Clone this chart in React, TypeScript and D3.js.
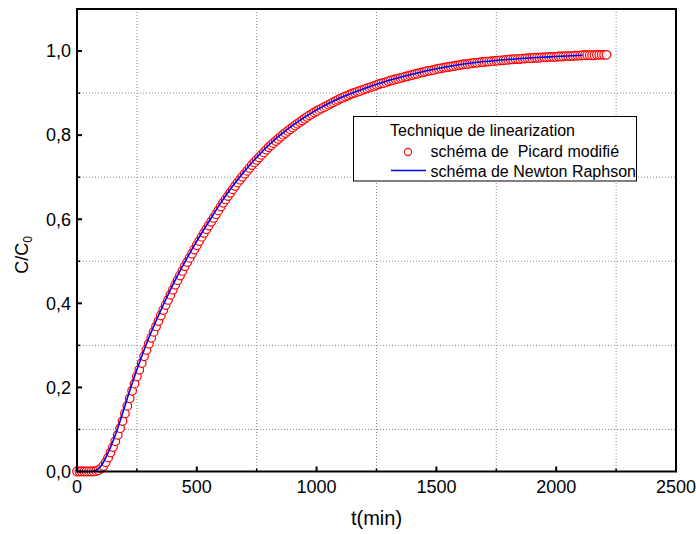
import React from 'react';
import * as d3 from 'd3';

// Picard modifié: one circle every 10 min, t = 0 .. 2210
const picardTime = d3.range(0, 2220, 10);
const picardValues = [
  0, 0, 0, 0, 0, 0, 0, 0, 0.001, 0.003,
  0.007, 0.013, 0.022, 0.033, 0.045, 0.058, 0.072, 0.087, 0.103, 0.120,
  0.138, 0.156, 0.174, 0.192, 0.209, 0.226, 0.242, 0.258, 0.274, 0.289,
  0.304, 0.318, 0.332, 0.345, 0.358, 0.371, 0.384, 0.396, 0.408, 0.420,
  0.432, 0.444, 0.455, 0.466, 0.477, 0.488, 0.498, 0.508, 0.518, 0.528,
  0.538, 0.548, 0.558, 0.567, 0.576, 0.585, 0.594, 0.603, 0.612, 0.621,
  0.630, 0.639, 0.647, 0.655, 0.663, 0.671, 0.679, 0.687, 0.694, 0.701,
  0.708, 0.715, 0.722, 0.729, 0.735, 0.741, 0.747, 0.753, 0.759, 0.765,
  0.771, 0.776, 0.781, 0.786, 0.791, 0.796, 0.801, 0.805, 0.810, 0.814,
  0.818, 0.823, 0.827, 0.831, 0.835, 0.839, 0.843, 0.847, 0.850, 0.854,
  0.857, 0.860, 0.863, 0.866, 0.869, 0.872, 0.875, 0.878, 0.881, 0.884,
  0.887, 0.889, 0.892, 0.894, 0.897, 0.899, 0.901, 0.903, 0.905, 0.907,
  0.909, 0.911, 0.913, 0.915, 0.917, 0.919, 0.921, 0.923, 0.924, 0.926,
  0.928, 0.930, 0.931, 0.933, 0.934, 0.936, 0.937, 0.939, 0.940, 0.942,
  0.943, 0.945, 0.946, 0.948, 0.949, 0.950, 0.952, 0.953, 0.954, 0.955,
  0.957, 0.958, 0.959, 0.960, 0.961, 0.962, 0.963, 0.964, 0.965, 0.966,
  0.967, 0.968, 0.969, 0.969, 0.970, 0.971, 0.972, 0.972, 0.973, 0.974,
  0.974, 0.975, 0.975, 0.976, 0.976, 0.977, 0.977, 0.978, 0.978, 0.979,
  0.979, 0.980, 0.980, 0.981, 0.981, 0.981, 0.982, 0.982, 0.983, 0.983,
  0.983, 0.984, 0.984, 0.984, 0.985, 0.985, 0.985, 0.986, 0.986, 0.986,
  0.986, 0.987, 0.987, 0.987, 0.988, 0.988, 0.988, 0.988, 0.989, 0.989,
  0.989, 0.990, 0.990, 0.990, 0.990, 0.990, 0.990, 0.991, 0.991, 0.991,
  0.991, 0.991,
];

// Newton Raphson (line)
const newtonTime = [
  0, 60, 70, 80, 90, 100, 110, 120, 130, 140,
  150, 160, 170, 180, 190, 200, 220, 240, 260, 280,
  300, 330, 360, 400, 450, 500, 550, 600, 650, 700,
  750, 800, 850, 900, 1000, 1100, 1200, 1300, 1400, 1500,
  1600, 1700, 1800, 1900, 2000, 2110,
];
const newtonValues = [
  0, 0, 0.001, 0.003, 0.007, 0.013, 0.022, 0.033, 0.045, 0.058,
  0.072, 0.087, 0.103, 0.120, 0.138, 0.156, 0.192, 0.226, 0.258, 0.289,
  0.318, 0.358, 0.396, 0.444, 0.498, 0.548, 0.594, 0.639, 0.679, 0.715,
  0.747, 0.776, 0.801, 0.823, 0.860, 0.889, 0.911, 0.930, 0.945, 0.958,
  0.968, 0.975, 0.980, 0.984, 0.987, 0.990,
];

const xTicks = [0, 500, 1000, 1500, 2000, 2500];
const xMinor = [250, 750, 1250, 1750, 2250];
const yTicks = [0, 0.2, 0.4, 0.6, 0.8, 1.0];
const yMinor = [0.1, 0.3, 0.5, 0.7, 0.9];

const legendTitle = 'Technique de linearization';
const picardLabel = 'schéma de  Picard modifié';
const newtonLabel = 'schéma de Newton Raphson';

const font = '"Liberation Sans", Arial, sans-serif';

export default function App() {
  const W = 696, H = 534;
  const left = 77, right = 676, top = 9, bottom = 471.5;

  const x = d3.scaleLinear().domain([0, 2500]).range([left, right]);
  const y = d3.scaleLinear().domain([0, 1.1]).range([bottom, top]);

  const picard = picardTime.map((t, i) => ({ t, v: picardValues[i] }));
  const newton = newtonTime.map((t, i) => ({ t, v: newtonValues[i] }));

  const line = d3.line<{ t: number; v: number }>()
    .x(d => x(d.t))
    .y(d => y(d.v))
    .curve(d3.curveMonotoneX);

  const fmtY = (v: number) => v.toFixed(1).replace('.', ',');

  // legend box
  const lg = { x: 353.5, y: 116.5, w: 283, h: 64.5 };

  return (
    <svg width={W} height={H} style={{ position: 'absolute', left: 0, top: 0, background: '#fff' }}
      fontFamily={font}>
      <rect x={0} y={0} width={W} height={H} fill="#fff" />

      {/* dotted grid at minor positions */}
      {xMinor.map(t => (
        <line key={'gx' + t} x1={x(t)} x2={x(t)} y1={top} y2={bottom}
          stroke="#8c8c8c" strokeWidth={1} strokeDasharray="1,2" />
      ))}
      {yMinor.map(v => (
        <line key={'gy' + v} x1={left} x2={right} y1={y(v)} y2={y(v)}
          stroke="#8c8c8c" strokeWidth={1} strokeDasharray="1,2" />
      ))}

      {/* Picard circles */}
      {picard.map((d, i) => (
        <circle key={i} cx={x(d.t)} cy={y(d.v)} r={4.3}
          fill="#fff" stroke="#ff0000" strokeWidth={1.2} />
      ))}

      {/* Newton line */}
      <path d={line(newton) || ''} fill="none" stroke="#0000ff" strokeWidth={1.6} />

      {/* frame */}
      <rect x={left} y={top} width={right - left} height={bottom - top}
        fill="none" stroke="#000" strokeWidth={2} />

      {/* ticks */}
      {xTicks.map(t => (
        <g key={'xt' + t}>
          <line x1={x(t)} x2={x(t)} y1={bottom} y2={bottom - 5} stroke="#000" strokeWidth={2} />
          <text x={x(t)} y={492.5} textAnchor="middle" fontSize={18}>{t}</text>
        </g>
      ))}
      {xMinor.map(t => (
        <line key={'xm' + t} x1={x(t)} x2={x(t)} y1={bottom} y2={bottom - 3} stroke="#000" strokeWidth={1.5} />
      ))}
      {yTicks.map(v => (
        <g key={'yt' + v}>
          <line x1={left} x2={left + 5} y1={y(v)} y2={y(v)} stroke="#000" strokeWidth={2} />
          <text x={71} y={y(v)} dy="0.35em" textAnchor="end" fontSize={18}>{fmtY(v)}</text>
        </g>
      ))}
      {yMinor.map(v => (
        <line key={'ym' + v} x1={left} x2={left + 3} y1={y(v)} y2={y(v)} stroke="#000" strokeWidth={1.5} />
      ))}

      {/* axis titles */}
      <text x={(left + right) / 2} y={525} textAnchor="middle" fontSize={20}>t(min)</text>
      <text transform="translate(27.5,255) rotate(-90)" textAnchor="middle" fontSize={18}>
        C/C<tspan fontSize={12} dy={4}>0</tspan>
      </text>

      {/* legend */}
      <rect x={lg.x} y={lg.y} width={lg.w} height={lg.h} fill="#fff" stroke="#000" strokeWidth={1} />
      <text x={390} y={136} fontSize={16}>{legendTitle}</text>
      <circle cx={408} cy={152} r={3.6} fill="#fff" stroke="#ff0000" strokeWidth={1.1} />
      <text x={430.5} y={157} fontSize={16} style={{ whiteSpace: 'pre' }}>{picardLabel}</text>
      <line x1={391} x2={426} y1={170.5} y2={170.5} stroke="#0000ff" strokeWidth={1.6} />
      <text x={430.5} y={177} fontSize={16}>{newtonLabel}</text>
    </svg>
  );
}
